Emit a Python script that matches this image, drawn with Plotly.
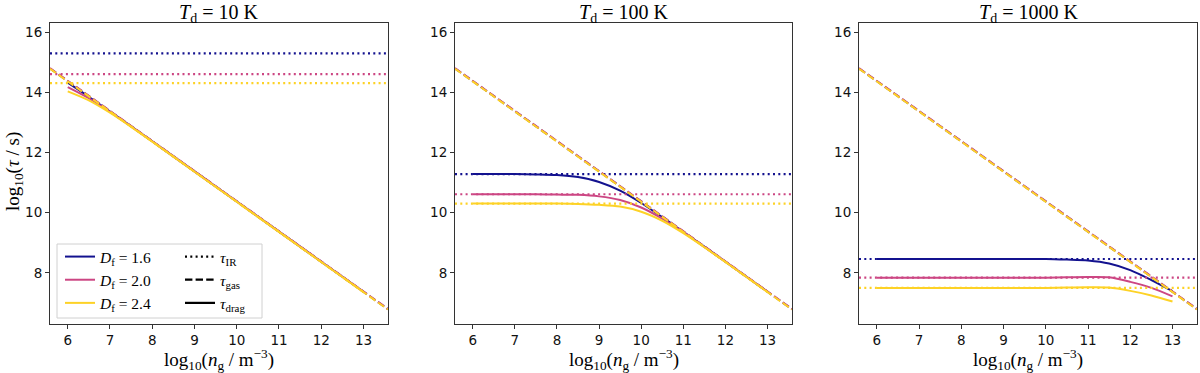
import plotly.graph_objects as go

# log10(n_g / m^-3) sample points for tau_drag curves
n_g = [6.0, 6.5, 7.0, 7.5, 8.0, 8.5, 9.0, 9.5, 10.0, 10.5, 11.0, 11.5, 12.0, 12.5, 13.0]

temps = ["10", "100", "1000"]
df_labels = ["1.6", "2.0", "2.4"]
colors = ["#13128f", "#cc4683", "#fdd226"]

# tau_IR (horizontal dotted lines), per panel, per D_f
tau_ir = {
    "10": [15.29, 14.60, 14.30],
    "100": [11.28, 10.61, 10.30],
    "1000": [8.46, 7.84, 7.50],
}

# tau_gas (dashed), values at left and right panel edges
gas_n = [5.58, 13.58]
tau_gas = [
    [14.79, 6.79],
    [14.80, 6.80],
    [14.78, 6.78],
]

# tau_drag (solid)
tau_drag = {
    "10": [
        [14.32, 13.85, 13.36, 12.87, 12.37, 11.87, 11.37, 10.87, 10.37, 9.87, 9.37, 8.87, 8.37, 7.87, 7.37],
        [14.17, 13.80, 13.35, 12.86, 12.37, 11.87, 11.37, 10.87, 10.37, 9.87, 9.37, 8.87, 8.37, 7.87, 7.37],
        [14.03, 13.73, 13.32, 12.85, 12.36, 11.86, 11.36, 10.86, 10.36, 9.86, 9.36, 8.86, 8.36, 7.86, 7.36],
    ],
    "100": [
        [11.28, 11.28, 11.28, 11.27, 11.25, 11.18, 11.02, 10.73, 10.32, 9.85, 9.36, 8.87, 8.37, 7.87, 7.37],
        [10.61, 10.61, 10.61, 10.61, 10.60, 10.59, 10.54, 10.42, 10.17, 9.80, 9.35, 8.86, 8.37, 7.87, 7.37],
        [10.30, 10.30, 10.30, 10.30, 10.30, 10.29, 10.26, 10.20, 10.03, 9.73, 9.32, 8.85, 8.36, 7.86, 7.36],
    ],
    "1000": [
        [8.46, 8.46, 8.46, 8.46, 8.46, 8.46, 8.46, 8.46, 8.46, 8.44, 8.41, 8.31, 8.09, 7.76, 7.39],
        [7.84, 7.84, 7.84, 7.84, 7.84, 7.84, 7.84, 7.84, 7.84, 7.85, 7.86, 7.85, 7.70, 7.50, 7.22],
        [7.50, 7.50, 7.50, 7.50, 7.50, 7.50, 7.50, 7.50, 7.50, 7.51, 7.52, 7.51, 7.40, 7.25, 7.05],
    ],
}

x_range = [5.58, 13.58]
y_range = [6.3, 16.3]

W, H = 1200, 373
x_doms = [(50, 388), (455, 792), (859, 1197)]
y_top, y_bot = 23, 324

serif = "Liberation Serif, DejaVu Serif, serif"
dotted = "2px,3.3px"
dashed = "7.4px,3.2px"

fig = go.Figure()

for p, T in enumerate(temps):
    xa = "x" if p == 0 else f"x{p+1}"
    ya = "y" if p == 0 else f"y{p+1}"
    for i in range(3):
        fig.add_trace(go.Scatter(
            x=x_range, y=[tau_ir[T][i]] * 2, mode="lines",
            line=dict(color=colors[i], width=2.2, dash=dotted),
            xaxis=xa, yaxis=ya, showlegend=False, hoverinfo="skip"))
        fig.add_trace(go.Scatter(
            x=gas_n, y=tau_gas[i], mode="lines",
            line=dict(color=colors[i], width=2, dash=dashed),
            xaxis=xa, yaxis=ya, showlegend=False, hoverinfo="skip"))
        fig.add_trace(go.Scatter(
            x=n_g, y=tau_drag[T][i], mode="lines",
            line=dict(color=colors[i], width=2, shape="spline", smoothing=0.8),
            xaxis=xa, yaxis=ya, showlegend=False))

# legend entries
for i in range(3):
    fig.add_trace(go.Scatter(
        x=[None], y=[None], mode="lines",
        line=dict(color=colors[i], width=2),
        name=f"<i>D</i><sub>f</sub> = {df_labels[i]}",
        legend="legend", showlegend=True))
style_names = ["<i>τ</i><sub>IR</sub>", "<i>τ</i><sub>gas</sub>", "<i>τ</i><sub>drag</sub>"]
style_dash = [dotted, dashed, "solid"]
for nm, ds in zip(style_names, style_dash):
    fig.add_trace(go.Scatter(
        x=[None], y=[None], mode="lines",
        line=dict(color="black", width=2.2, dash=ds),
        name=nm, legend="legend2", showlegend=True))

axis_common = dict(
    showline=True, mirror=True, linecolor="#333", linewidth=1,
    ticks="outside", ticklen=4, tickwidth=1, tickcolor="#333",
    showgrid=False, zeroline=False,
    tickfont=dict(family="DejaVu Sans", size=13.5, color="#111"),
)

layout = dict(
    width=W, height=H,
    margin=dict(l=0, r=0, t=0, b=0),
    paper_bgcolor="white", plot_bgcolor="white",
    showlegend=True,
)
for p in range(3):
    x0, x1 = x_doms[p]
    sx = "" if p == 0 else str(p + 1)
    layout[f"xaxis{sx}"] = dict(
        domain=[x0 / W, x1 / W], range=x_range, anchor=f"y{sx}",
        tickvals=list(range(6, 14)), **axis_common)
    layout[f"yaxis{sx}"] = dict(
        domain=[1 - y_bot / H, 1 - y_top / H], range=y_range, anchor=f"x{sx}",
        tickvals=[8, 10, 12, 14, 16], **axis_common)

leg_font = dict(family=serif, size=15.5, color="black")
layout["legend"] = dict(
    x=60 / W, y=1 - 240 / H, xanchor="left", yanchor="top",
    bgcolor="rgba(0,0,0,0)", font=leg_font, tracegroupgap=0, itemwidth=30)
layout["legend2"] = dict(
    x=180 / W, y=1 - 240 / H, xanchor="left", yanchor="top",
    bgcolor="rgba(0,0,0,0)", font=leg_font, tracegroupgap=0, itemwidth=30)
fig.update_layout(**layout)

fig.add_shape(type="rect", xref="paper", yref="paper",
              x0=57 / W, x1=262 / W, y0=1 - 318 / H, y1=1 - 244 / H,
              line=dict(color="#d0d0d0", width=1), fillcolor="rgba(255,255,255,0.8)",
              layer="below")

for p, T in enumerate(temps):
    sx = "x" if p == 0 else f"x{p+1}"
    fig.add_annotation(
        text=f"<i>T</i><sub>d</sub> = {T} K", xref=f"{sx} domain", yref="paper",
        x=0.5, y=1 - 13 / H, showarrow=False, yanchor="middle",
        font=dict(family=serif, size=20, color="black"))
    fig.add_annotation(
        text="log<sub>10</sub>(<i>n</i><sub>g</sub> / m<sup>−3</sup>)",
        xref=f"{sx} domain", yref="paper", x=0.5, y=1 - 359 / H,
        showarrow=False, yanchor="middle",
        font=dict(family=serif, size=19, color="black"))

fig.add_annotation(
    text="log<sub>10</sub>(<i>τ</i> / s)", xref="paper", yref="paper",
    x=14 / W, y=1 - 172 / H, textangle=-90, showarrow=False,
    xanchor="center", yanchor="middle",
    font=dict(family=serif, size=19, color="black"))

# drop the browser's default 8px body margin so the figure fills the window
fig.write_html("out.html", config={"displayModeBar": False},
               post_script="document.body.style.margin='0';")
